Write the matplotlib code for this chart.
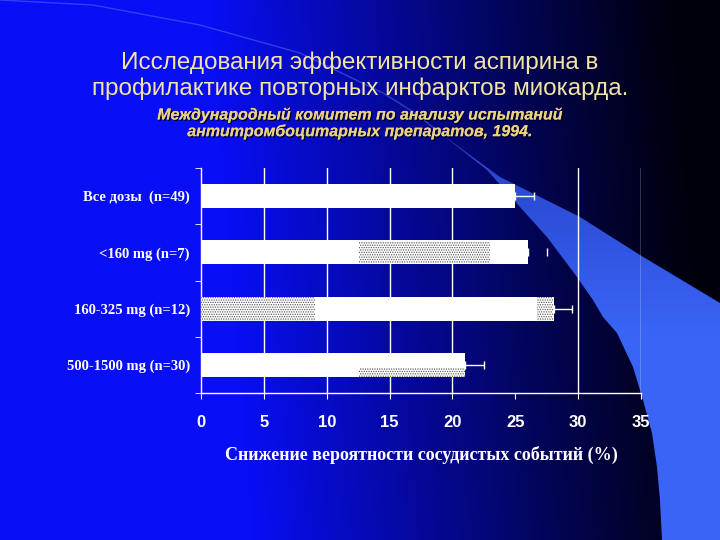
import numpy as np
import matplotlib
matplotlib.use('Agg')
import matplotlib.pyplot as plt
from matplotlib.patches import Polygon
import matplotlib.patheffects as pe

# chart data
categories = ['Все дозы  (n=49)', '<160 mg (n=7)', '160-325 mg (n=12)', '500-1500 mg (n=30)']
reduction = [25.0, 26.0, 28.1, 21.0]
err_upper = [1.5, 1.5, 1.4, 1.5]
err_line_shown = [True, False, True, True]   # the <160 mg bar only shows its cap
# dotted (confidence) segments: category index, start, end, bottom fraction, height fraction
dot_cat = [1, 2, 2, 3]
dot_start = [12.6, 0.0, 26.7, 12.6]
dot_end = [23.0, 9.1, 28.0, 21.0]
dot_bottom = [0.05, 0.0, 0.0, 0.0]
dot_frac = [0.9, 1.0, 1.0, 0.38]
x_ticks = [0, 5, 10, 15, 20, 25, 30, 35]
grid_ticks = [5, 10, 15, 20, 30, 35]

title = 'Исследования эффективности аспирина в\nпрофилактике повторных инфарктов миокарда.'
subtitle = 'Международный комитет по анализу испытаний\nантитромбоцитарных препаратов, 1994.'
xlabel = 'Снижение вероятности сосудистых событий (%)'

W, H = 720, 540
fig = plt.figure(figsize=(7.2, 5.4), dpi=100)

# --- slide background ---
bg = fig.add_axes([0, 0, 1, 1])
bg.set_xlim(0, W)
bg.set_ylim(H, 0)
bg.axis('off')
xx, yy = np.meshgrid(np.linspace(0, W, 360), np.linspace(0, H, 270))
u = xx / W + 0.06 * (1 - yy / H)
b = np.clip((1.0 - u) / 0.65, 0, 1) ** 1.1
light = np.array([8, 14, 245]) / 255
dark = np.array([0, 0, 12]) / 255
img = b[..., None] * light + (1 - b[..., None]) * dark
bg.imshow(img, extent=(0, W, H, 0), aspect='auto', zorder=0)

# decorative wedge on the right, shaded a bit darker at its thin top end
wedge_top = [(440, 133), (500, 177), (580, 217), (640, 255), (680, 279), (720, 303)]
wedge_side = [(720, 540), (662, 540), (660, 500), (657, 467), (652, 433), (643, 400),
              (633, 367), (617, 333), (603, 317), (593, 300), (577, 277), (547, 237),
              (520, 207), (487, 170)]
wedge = Polygon(wedge_top + wedge_side, closed=True, facecolor='none', edgecolor='none')
bg.add_patch(wedge)
t = np.clip((yy - 140) / 190, 0, 1)
c_top = np.array([38, 66, 200]) / 255
c_bot = np.array([58, 100, 246]) / 255
wimg = (1 - t[..., None]) * c_top + t[..., None] * c_bot
wim = bg.imshow(wimg, extent=(0, W, H, 0), aspect='auto', zorder=1)
wim.set_clip_path(wedge)
arc = np.array([(0, 0), (93, 5), (200, 25), (300, 53), (383, 93), (415, 113), (440, 133)])
bg.plot(arc[:, 0], arc[:, 1], color='#6f8dff', lw=1.0, alpha=0.4, zorder=1)

# --- titles ---
fig.text(0.5, 1 - 75.5 / H, title, ha='center', va='center', fontsize=17.5,
         family='Liberation Sans', color='#f3e4a6', linespacing=1.2)
fig.text(0.5, 1 - 123 / H, subtitle, ha='center', va='center', fontsize=11.5,
         family='Liberation Sans', weight='bold', style='italic', color='#ecd27e',
         linespacing=1.1,
         path_effects=[pe.withSimplePatchShadow(offset=(1, -1), shadow_rgbFace='#000020', alpha=0.9),
                       pe.Normal()])

# --- chart ---
x0, x1, y_top, y_bot = 201, 641, 168, 393
ax = fig.add_axes([x0 / W, 1 - y_bot / H, (x1 - x0) / W, (y_bot - y_top) / H])
ax.set_facecolor('none')
ax.set_xlim(0, 35)
ax.set_ylim(len(categories) - 0.5, -0.5)

for gx in grid_ticks:
    ax.axvline(gx, color='white', lw=1, zorder=1)

ypos = np.arange(len(categories))
bar_h = 0.43
ax.barh(ypos, reduction, height=bar_h, color='white', edgecolor='none', zorder=2)

plt.rcParams['hatch.linewidth'] = 0.6
for c, s, e, fb, fh in zip(dot_cat, dot_start, dot_end, dot_bottom, dot_frac):
    bottom = c + bar_h / 2 - bar_h * fb
    ax.barh(bottom - bar_h * fh / 2, e - s, left=s, height=bar_h * fh,
            color='white', edgecolor='#505050', hatch='.......', lw=0, zorder=3)

for yv, val, err, shown in zip(ypos, reduction, err_upper, err_line_shown):
    ax.errorbar([val], [yv], xerr=[[0], [err]], fmt='none', ecolor='white',
                elinewidth=1 if shown else 0, capsize=3, capthick=1, zorder=2)

for s in ['top', 'right']:
    ax.spines[s].set_visible(False)
for s in ['left', 'bottom']:
    ax.spines[s].set_color('white')
    ax.spines[s].set_linewidth(1)

ax.set_xticks(x_ticks)
ax.set_xticklabels([str(t) for t in x_ticks], family='Liberation Sans', weight='bold',
                   fontsize=12, color='white')
ax.tick_params(axis='x', colors='white', length=4, pad=12)
ax.set_yticks(ypos)
ax.set_yticklabels(categories, family='Liberation Serif', weight='bold', fontsize=10.5,
                   color='white')
ax.set_yticks(np.arange(-0.5, len(categories)), minor=True)
ax.tick_params(axis='y', which='major', length=0, pad=8)
ax.tick_params(axis='y', which='minor', length=4, color='white')

ax.set_xlabel(xlabel, family='Liberation Serif', weight='bold', fontsize=13, color='white')
ax.xaxis.set_label_coords(0.5, -0.235)

fig.savefig('out.png', dpi=100)
